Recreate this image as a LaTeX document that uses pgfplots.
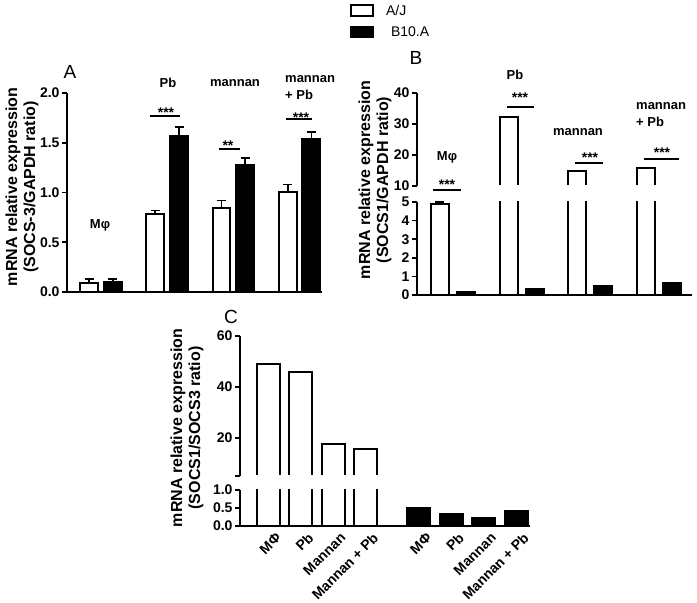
\documentclass[border=0pt]{standalone}
\usepackage{pgfplots}
\pgfplotsset{compat=1.18}
\usepackage{pgfplotstable}
\usepackage{fontspec}
\setmainfont{Liberation Sans}
\newcommand{\tickf}{\bfseries\fontsize{14}{14}\selectfont}
\newcommand{\labf}{\bfseries\fontsize{16}{18}\selectfont}
\newcommand{\catf}{\bfseries\fontsize{13}{17}\selectfont}
\newcommand{\starf}{\bfseries\fontsize{14}{14}\selectfont}

\pgfplotstableread{
x aj ajE b10 b10E
0 0.09 0.04 0.10 0.03
1 0.78 0.04 1.57 0.09
2 0.84 0.08 1.28 0.07
3 1.01 0.07 1.54 0.07
}\dataA
\pgfplotstableread{
x aj ajE b10 b10E
0 4.9 0.08 0.15 0
1 32.1 0.3 0.30 0
2 14.8 0 0.50 0
3 15.8 0 0.65 0
}\dataB
\pgfplotstableread{
x v
0 49.0
1 45.8
2 17.6
3 15.8
}\dataCaj
\pgfplotstableread{
x v
4.65 0.50
5.65 0.33
6.65 0.22
7.65 0.42
}\dataCb

\pgfplotsset{
  brk/.style={scale only axis, anchor=south west,
    axis line style={-, line width=1.8pt},
    x axis line style={-}, y axis line style={-},
    tick align=outside, major tick length=5pt,
    ytick style={line width=1.6pt, black},
    xtick=\empty,
    yticklabel style={font=\tickf, xshift=1pt},
    ybar},
  ajbar/.style={fill=white, draw=black, line width=2pt},
  bbar/.style={fill=black, draw=black, line width=2pt},
  eb/.style={error bars/.cd, y dir=plus, y explicit,
    error bar style={line width=1.8pt, black},
    error mark options={rotate=90, mark size=4.5pt, line width=1.8pt, black},
    /pgfplots/.cd},
}
% mask that hides the half-stroke of bars cut at the lower limit of a broken axis
\newcommand{\brkmask}{\fill[white] ([xshift=2pt]rel axis cs:0,0) rectangle ([yshift=1.3pt]rel axis cs:1,0);}

\begin{document}
\begin{tikzpicture}
% ---------- Panel A ----------
\begin{axis}[axis lines=left, brk, at={(67pt,311pt)}, width=255pt, height=199pt,
  xmin=-0.515, xmax=3.34, ymin=0, ymax=2,
  ytick={0,0.5,1,1.5,2}, yticklabels={0.0,0.5,1.0,1.5,2.0},
  bar width=0.27,
  legend style={at={(axis description cs:1.11,1.452)}, anchor=north west,
    draw=none, fill=none, inner sep=0pt, font=\fontsize{14}{16}\selectfont,
    row sep=6pt, legend cell align=left}]
\addplot[ajbar, bar shift=-0.18,
  legend image code/.code={\draw[line width=1.8pt, fill=white] (0pt,-5pt) rectangle (22pt,6pt);}, eb]
  table[x=x, y=aj, y error=ajE]{\dataA};
\addlegendentry{\hspace{10pt}A/J}
\addplot[bbar, bar shift=0.18,
  legend image code/.code={\draw[line width=1.8pt, fill=black] (0pt,-5pt) rectangle (22pt,6pt);}, eb]
  table[x=x, y=b10, y error=b10E]{\dataA};
\addlegendentry{\hspace{15pt}B10.A}
\end{axis}

% ---------- Panel B upper ----------
\begin{axis}[axis x line=none, axis y line=left, brk, at={(417pt,417pt)}, width=275pt, height=93pt,
  xmin=-0.524, xmax=3.48, ymin=10, ymax=40,
  ytick={10,20,30,40}, yticklabels={10,20,30,40}, bar width=0.26]
\addplot[ajbar, bar shift=-0.19, eb] table[x=x, y=aj, y error=ajE]{\dataB};
\addplot[bbar, bar shift=0.19] table[x=x, y=b10]{\dataB};
\brkmask
\end{axis}
% ---------- Panel B lower ----------
\begin{axis}[axis lines=left, brk, at={(417pt,308pt)}, width=275pt, height=93pt,
  xmin=-0.524, xmax=3.48, ymin=0, ymax=5,
  ytick={0,1,2,3,4,5}, yticklabels={0,1,2,3,4,5}, bar width=0.26]
\addplot[ajbar, bar shift=-0.19, eb] table[x=x, y=aj, y error=ajE]{\dataB};
\addplot[bbar, bar shift=0.19] table[x=x, y=b10]{\dataB};
\end{axis}

% ---------- Panel C upper ----------
\begin{axis}[axis x line=none, axis y line=left, brk, at={(240pt,127pt)}, width=290pt, height=140pt,
  xmin=-0.88, xmax=8.08, ymin=5, ymax=60,
  ytick={5,20,40,60}, yticklabels={,20,40,60}, bar width=0.71, bar shift=0]
\addplot[ajbar] table[x=x, y=v]{\dataCaj};
\addplot[bbar] table[x=x, y=v]{\dataCb};
\brkmask
\end{axis}
% ---------- Panel C lower ----------
\begin{axis}[axis lines=left, brk, at={(240pt,77pt)}, width=290pt, height=36pt,
  xmin=-0.88, xmax=8.08, ymin=0, ymax=1,
  ytick={0,0.5,1}, yticklabels={0.0,0.5,1.0}, bar width=0.71, bar shift=0,
  xtick={0,1,2,3,4.65,5.65,6.65,7.65},
  xticklabels={MΦ,Pb,Mannan,Mannan + Pb,MΦ,Pb,Mannan,Mannan + Pb},
  x tick style={draw=none},
  xticklabel style={rotate=45, anchor=north east, font=\fontsize{14}{14}\selectfont\bfseries, inner sep=1pt, xshift=5pt, yshift=-4pt}]
\addplot[ajbar] table[x=x, y=v]{\dataCaj};
\addplot[bbar] table[x=x, y=v]{\dataCb};
\end{axis}

% ---------- annotations (pixel frame) ----------
\begin{scope}[shift={(0pt,603pt)}, x=1pt, y=-1pt]
  % y labels
  \node[rotate=90, font=\labf, align=center] at (22,187) {mRNA relative expression\\(SOCS-3/GAPDH ratio)};
  \node[rotate=90, font=\labf, align=center] at (375,180) {mRNA relative expression\\(SOCS1/GAPDH ratio)};
  \node[rotate=90, font=\labf, align=center] at (187,428) {mRNA relative expression\\(SOCS1/SOCS3 ratio)};
  % panel letters
  \node[font=\fontsize{19}{19}\selectfont] at (70,72) {A};
  \node[font=\fontsize{19}{19}\selectfont] at (416,58) {B};
  \node[font=\fontsize{19}{19}\selectfont] at (231,317) {C};
  % panel A categories
  \node[font=\catf] at (100,225) {Mφ};
  \node[font=\catf] at (168,83) {Pb};
  \node[font=\catf] at (235,83) {mannan};
  \node[font=\catf, align=left, anchor=north west, inner sep=0pt] at (285,75) {mannan\\+ Pb};
  % panel A significance
  \draw[line width=2pt] (150,116) -- (180,116);
  \node[font=\starf, anchor=base, inner sep=0pt] at (166,118) {***};
  \draw[line width=2pt] (219,149) -- (240,149);
  \node[font=\starf, anchor=base, inner sep=0pt] at (228,151) {**};
  \draw[line width=2pt] (286,119) -- (312,119);
  \node[font=\starf, anchor=base, inner sep=0pt] at (301,123) {***};
  % panel B categories
  \node[font=\catf] at (447,157) {Mφ};
  \node[font=\catf] at (515,75) {Pb};
  \node[font=\catf] at (578,132) {mannan};
  \node[font=\catf, align=left, anchor=north west, inner sep=0pt] at (636,102) {mannan\\+ Pb};
  % panel B significance
  \draw[line width=2pt] (433,190) -- (461,190);
  \node[font=\starf, anchor=base, inner sep=0pt] at (447,190) {***};
  \draw[line width=2pt] (507,107) -- (534,107);
  \node[font=\starf, anchor=base, inner sep=0pt] at (520,103) {***};
  \draw[line width=2pt] (575,163) -- (603,163);
  \node[font=\starf, anchor=base, inner sep=0pt] at (590,163) {***};
  \draw[line width=2pt] (644,159) -- (679,159);
  \node[font=\starf, anchor=base, inner sep=0pt] at (662,158) {***};
\end{scope}

\pgfresetboundingbox
\path[use as bounding box] (0pt,0pt) rectangle (697pt,603pt);
\end{tikzpicture}
\end{document}
